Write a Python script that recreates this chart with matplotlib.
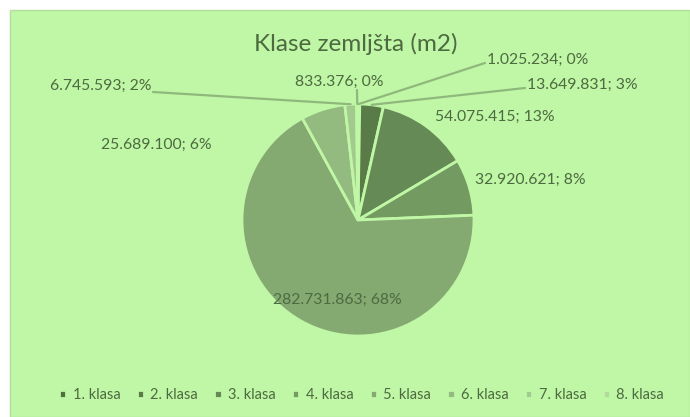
import matplotlib
matplotlib.use("Agg")
import matplotlib.pyplot as plt
from matplotlib.patches import Rectangle
import numpy as np

categories = ["1. klasa", "2. klasa", "3. klasa", "4. klasa", "5. klasa", "6. klasa", "7. klasa", "8. klasa"]
values = [1025234, 13649831, 54075415, 32920621, 282731863, 25689100, 6745593, 833376]
value_labels = ["1.025.234", "13.649.831", "54.075.415", "32.920.621", "282.731.863", "25.689.100", "6.745.593", "833.376"]
colors = ["#4e7040", "#587b48", "#668a55", "#739a60", "#84aa71", "#93bb7f", "#a2ca8d", "#b2da9c"]

W, H = 690, 417
BG = "#c0f7a6"
TXT = "#4d6a40"

fig = plt.figure(figsize=(W / 100, H / 100), dpi=100, facecolor="white")
fig.patches.append(Rectangle((10 / W, 0), 1 - 10 / W, 1 - 10 / H, transform=fig.transFigure,
                             facecolor=BG, edgecolor="#b0e098", linewidth=1.0, zorder=-10))

cx, cy, r = 358, 220, 116
ax = fig.add_axes([(cx - r) / W, (H - cy - r) / H, 2 * r / W, 2 * r / H])
ax.set_zorder(1)
ax.patch.set_visible(False)

wedges, _ = ax.pie(values, colors=colors, startangle=90, counterclock=False, radius=1,
                   wedgeprops=dict(edgecolor=BG, linewidth=2.0))
ax.set_xlim(-1, 1)
ax.set_ylim(-1, 1)
ax.axis("off")

font = "Lato"
fig.text(356 / W, 1 - 44 / H, "Klase zemljšta (m2)", ha="center", va="center",
         fontsize=17.5, color=TXT, family=font, zorder=5)

total = sum(values)
texts = [f"{v}; {round(100 * x / total)}%" for v, x in zip(value_labels, values)]

# label anchor (x, y from top, alignment) and leader start point (None = no leader)
label_pos = [(487, 60, "left", (485, 63)), (527, 85, "left", (525, 88)),
             (435, 117, "left", None), (475, 180, "left", None),
             (337, 300, "center", None), (156, 145, "center", None),
             (152, 86, "right", (153, 92)), (339, 82, "center", (357, 90))]

for w, t, (px, py, ha, lead) in zip(wedges, texts, label_pos):
    fig.text(px / W, 1 - py / H, t, ha=ha, va="center", fontsize=11.3, color=TXT, family=font, zorder=5)
    if lead is not None:
        ang = np.deg2rad((w.theta1 + w.theta2) / 2)
        ex, ey = np.cos(ang), np.sin(ang)
        tx, ty = lead
        ax.annotate("", xy=(ex, ey), xycoords="data", xytext=(tx, H - ty), textcoords="figure pixels",
                    arrowprops=dict(arrowstyle="-", color="#8fb87c", lw=1.6, shrinkA=0, shrinkB=0))

leg = fig.legend(wedges, categories, loc="center", bbox_to_anchor=(0.524, 1 - 395 / H), ncol=8,
                 frameon=False, handlelength=0.5, handleheight=0.5, handletextpad=0.45,
                 columnspacing=1.1, prop=dict(family=font, size=10.5))
for txt in leg.get_texts():
    txt.set_color(TXT)

fig.savefig("out.png", dpi=100, facecolor="white")
